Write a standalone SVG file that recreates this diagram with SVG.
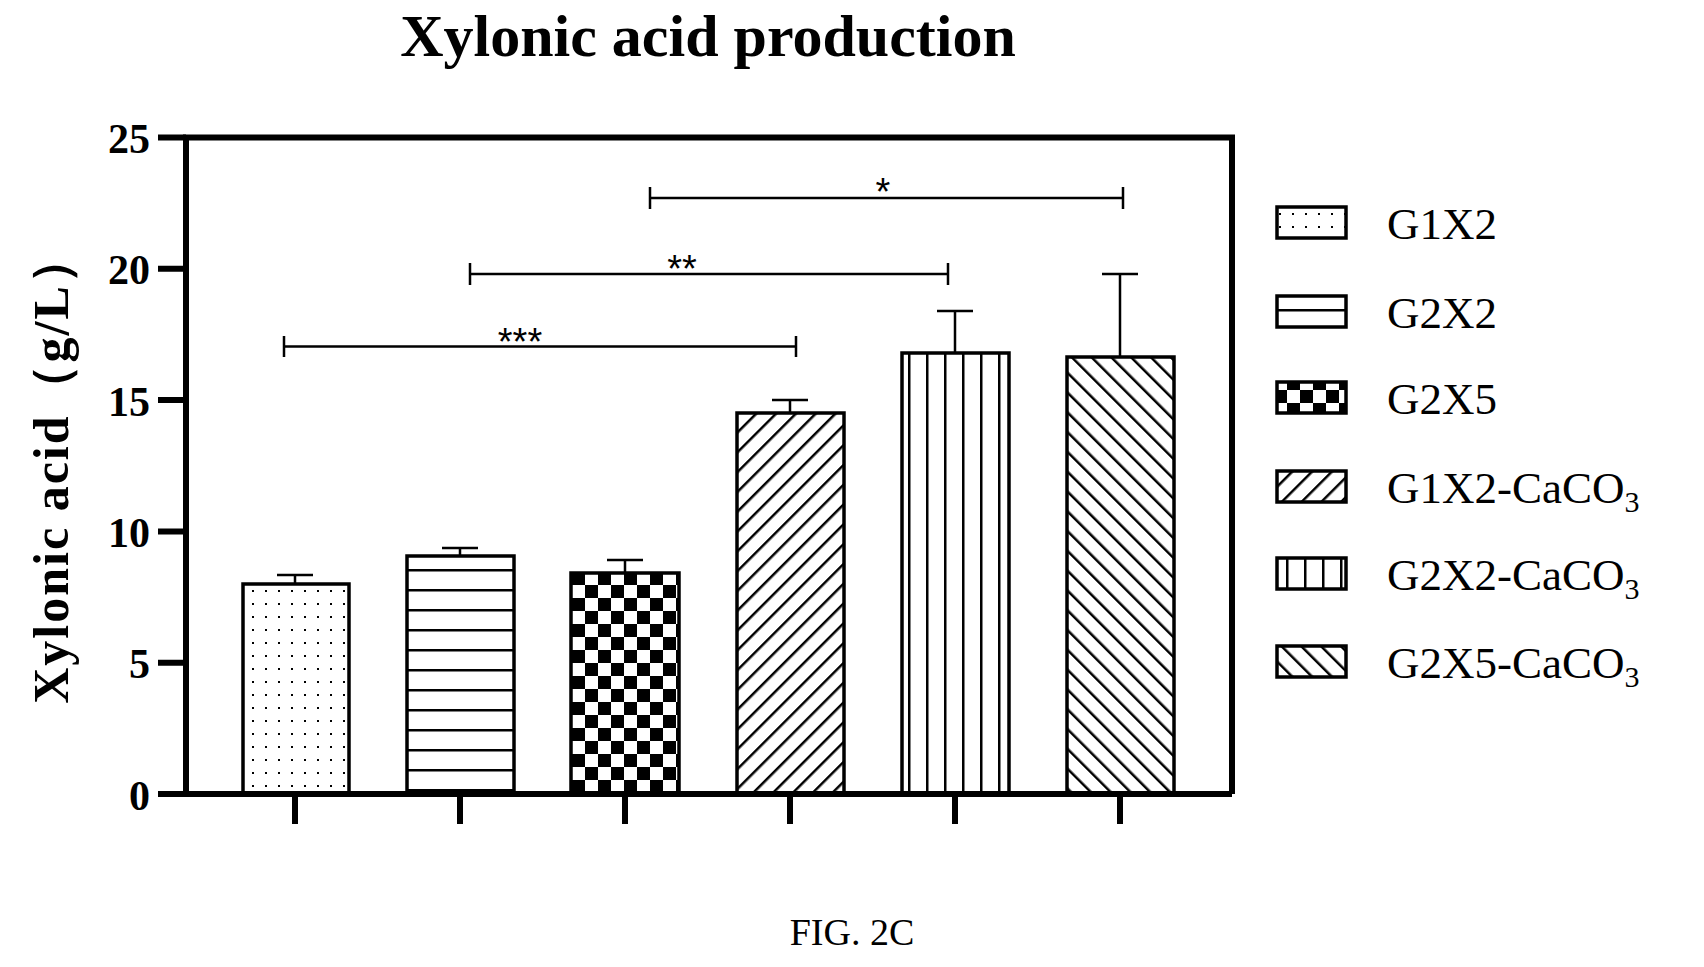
<svg xmlns="http://www.w3.org/2000/svg" width="1704" height="967" viewBox="0 0 1704 967">
<defs>
<pattern id="dots" width="13" height="13" patternUnits="userSpaceOnUse"><rect x="5" y="5" width="2" height="2" fill="#000"/></pattern>
<pattern id="hl" width="20" height="20" patternUnits="userSpaceOnUse"><rect x="0" y="9" width="20" height="2.5" fill="#000"/></pattern>
<pattern id="chk" width="26" height="26" patternUnits="userSpaceOnUse"><rect width="13" height="13" fill="#000"/><rect x="13" y="13" width="13" height="13" fill="#000"/></pattern>
<pattern id="fd" width="14" height="14" patternUnits="userSpaceOnUse" patternTransform="rotate(45)"><rect x="0" y="0" width="2.5" height="14" fill="#000"/></pattern>
<pattern id="vl" width="18" height="18" patternUnits="userSpaceOnUse"><rect x="8" y="0" width="2.5" height="18" fill="#000"/></pattern>
<pattern id="bd" width="14" height="14" patternUnits="userSpaceOnUse" patternTransform="rotate(-45)"><rect x="0" y="0" width="2.5" height="14" fill="#000"/></pattern>
</defs>
<style>
.bar{stroke:#000;stroke-width:3.5}
.ax{stroke:#000;stroke-width:6;fill:none}
.ln{stroke:#000;stroke-width:2.5;fill:none}
.yt{font-family:"Liberation Serif",serif;font-weight:bold;font-size:42px;text-anchor:end}
.lg{font-family:"Liberation Serif",serif;font-size:45px}
.st{font-family:"Liberation Sans",sans-serif;font-size:38px;text-anchor:middle}
</style>
<rect width="1704" height="967" fill="#fff"/>
<text x="708" y="56" font-family="Liberation Serif,serif" font-weight="bold" font-size="60" text-anchor="middle">Xylonic acid production</text>
<text transform="translate(68,468) rotate(-90)" font-family="Liberation Serif,serif" font-weight="bold" font-size="50" letter-spacing="2" text-anchor="middle">Xylonic acid（g/L）</text>
<g id="axes">
<path class="ax" d="M186,137.5 H1232 V794 M186,134.5 V797 M158,794 H1232"/>
<path class="ax" d="M158,137.5 H186 M158,268.8 H186 M158,400 H186 M158,531.4 H186 M158,662.7 H186"/>
<path class="ax" d="M295,794 V824 M460,794 V824 M625,794 V824 M790,794 V824 M955,794 V824 M1120,794 V824"/>
<text class="yt" x="150" y="810">0</text>
<text class="yt" x="150" y="678">5</text>
<text class="yt" x="150" y="547">10</text>
<text class="yt" x="150" y="416">15</text>
<text class="yt" x="150" y="284">20</text>
<text class="yt" x="150" y="153">25</text>
</g>
<g id="bars">
<path class="ln" d="M295,584 V575 M277,575 H313 M460,556 V548 M442,548 H478 M625,573 V560 M607,560 H643 M790,413 V400 M772,400 H808 M955,353 V311 M937,311 H973 M1120,357 V274 M1102,274 H1138"/>
<rect class="bar" x="243" y="584" width="106" height="210" fill="url(#dots)"/>
<rect class="bar" x="407" y="556" width="107" height="238" fill="url(#hl)"/>
<rect class="bar" x="571" y="573" width="108" height="221" fill="url(#chk)"/>
<rect class="bar" x="737" y="413" width="107" height="381" fill="url(#fd)"/>
<rect class="bar" x="902" y="353" width="107" height="441" fill="url(#vl)"/>
<rect class="bar" x="1067" y="357" width="107" height="437" fill="url(#bd)"/>
</g>
<g id="connectors">
<path class="ln" d="M284,346.5 H796 M284,336 V357 M796,336 V357"/>
<path class="ln" d="M470,274 H948 M470,263 V285 M948,263 V285"/>
<path class="ln" d="M650,198 H1123 M650,187 V209 M1123,187 V209"/>
<text class="st" x="520" y="355">***</text>
<text class="st" x="682" y="282">**</text>
<text class="st" x="883" y="205">*</text>
</g>
<g id="legend">
<rect class="bar" x="1277" y="207" width="69" height="31" fill="url(#dots)"/>
<rect class="bar" x="1277" y="296" width="69" height="31" fill="url(#hl)"/>
<rect class="bar" x="1277" y="382" width="69" height="31" fill="url(#chk)"/>
<rect class="bar" x="1277" y="471" width="69" height="31" fill="url(#fd)"/>
<rect class="bar" x="1277" y="558" width="69" height="31" fill="url(#vl)"/>
<rect class="bar" x="1277" y="646" width="69" height="31" fill="url(#bd)"/>
<text class="lg" x="1387" y="239">G1X2</text>
<text class="lg" x="1387" y="328">G2X2</text>
<text class="lg" x="1387" y="414">G2X5</text>
<text class="lg" x="1387" y="503">G1X2-CaCO<tspan font-size="30" dy="9">3</tspan></text>
<text class="lg" x="1387" y="590">G2X2-CaCO<tspan font-size="30" dy="9">3</tspan></text>
<text class="lg" x="1387" y="678">G2X5-CaCO<tspan font-size="30" dy="9">3</tspan></text>
</g>
<text x="852" y="945" font-family="Liberation Serif,serif" font-size="38" text-anchor="middle">FIG. 2C</text>
</svg>
